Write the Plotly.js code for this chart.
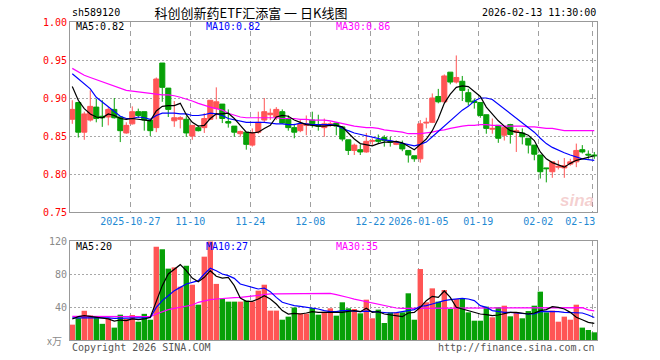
<!DOCTYPE html>
<html>
<head>
<meta charset="utf-8">
<script src="https://cdn.plot.ly/plotly-3.0.1.min.js"></script>
<style>html,body{margin:0;padding:0;background:#fff;}#chart{width:660px;height:360px;}</style>
</head>
<body>
<div id="chart"></div>
<script>
// ---------- data ----------
const dates = [
'2025-10-13','2025-10-14','2025-10-15','2025-10-16','2025-10-17','2025-10-20','2025-10-21','2025-10-22','2025-10-23','2025-10-24',
'2025-10-27','2025-10-28','2025-10-29','2025-10-30','2025-10-31',
'2025-11-03','2025-11-04','2025-11-05','2025-11-06','2025-11-07','2025-11-10','2025-11-11','2025-11-12','2025-11-13','2025-11-14',
'2025-11-17','2025-11-18','2025-11-19','2025-11-20','2025-11-21','2025-11-24','2025-11-25','2025-11-26','2025-11-27','2025-11-28',
'2025-12-01','2025-12-02','2025-12-03','2025-12-04','2025-12-05','2025-12-08','2025-12-09','2025-12-10','2025-12-11','2025-12-12',
'2025-12-15','2025-12-16','2025-12-17','2025-12-18','2025-12-19','2025-12-22','2025-12-23','2025-12-24','2025-12-25','2025-12-26',
'2025-12-29','2025-12-30','2025-12-31',
'2026-01-05','2026-01-06','2026-01-07','2026-01-08','2026-01-09','2026-01-12','2026-01-13','2026-01-14','2026-01-15','2026-01-16',
'2026-01-19','2026-01-20','2026-01-21','2026-01-22','2026-01-23','2026-01-26','2026-01-27','2026-01-28','2026-01-29','2026-01-30',
'2026-02-02','2026-02-03','2026-02-04','2026-02-05','2026-02-06','2026-02-09','2026-02-10','2026-02-11','2026-02-12','2026-02-13'];

const open = [0.872,0.894,0.855,0.871,0.888,0.876,0.875,0.885,0.875,0.854,
0.866,0.882,0.882,0.871,0.861,0.946,0.913,0.870,0.872,0.872,
0.850,0.861,0.861,0.872,0.886,0.892,0.869,0.863,0.853,0.855,
0.838,0.855,0.871,0.878,0.875,0.882,0.872,0.861,0.857,0.864,
0.871,0.864,0.861,0.864,0.867,0.862,0.845,0.831,0.832,0.829,
0.843,0.845,0.848,0.843,0.839,0.840,0.831,0.824,0.820,0.867,
0.868,0.902,0.895,0.934,0.921,0.922,0.907,0.896,0.894,0.878,
0.859,0.864,0.851,0.865,0.855,0.854,0.847,0.838,0.825,0.808,
0.803,0.809,0.808,0.813,0.816,0.832,0.826,0.825];
const high = [0.897,0.895,0.882,0.910,0.899,0.897,0.888,0.900,0.875,0.868,
0.889,0.886,0.882,0.871,0.927,0.946,0.913,0.896,0.876,0.876,
0.864,0.864,0.880,0.897,0.914,0.892,0.885,0.863,0.857,0.855,
0.860,0.882,0.900,0.886,0.888,0.885,0.877,0.866,0.871,0.877,
0.882,0.878,0.873,0.869,0.868,0.862,0.845,0.840,0.839,0.854,
0.847,0.852,0.851,0.849,0.844,0.844,0.831,0.824,0.871,0.874,
0.906,0.912,0.931,0.934,0.956,0.929,0.912,0.899,0.894,0.878,
0.873,0.864,0.862,0.866,0.860,0.860,0.847,0.838,0.825,0.808,
0.816,0.818,0.821,0.820,0.840,0.838,0.831,0.829];
const low = [0.866,0.848,0.845,0.869,0.868,0.862,0.864,0.873,0.842,0.853,
0.865,0.874,0.857,0.850,0.855,0.895,0.875,0.862,0.860,0.849,
0.845,0.856,0.854,0.871,0.872,0.867,0.861,0.849,0.849,0.832,
0.836,0.853,0.868,0.871,0.871,0.866,0.857,0.847,0.855,0.851,
0.861,0.857,0.849,0.862,0.851,0.843,0.825,0.825,0.825,0.828,
0.838,0.840,0.836,0.836,0.838,0.830,0.815,0.816,0.815,0.860,
0.867,0.893,0.894,0.918,0.919,0.896,0.890,0.886,0.874,0.853,
0.853,0.841,0.844,0.840,0.829,0.839,0.827,0.818,0.794,0.789,
0.795,0.806,0.795,0.811,0.809,0.827,0.820,0.820];
const close = [0.885,0.855,0.879,0.889,0.873,0.874,0.885,0.874,0.857,0.864,
0.882,0.877,0.871,0.857,0.925,0.914,0.885,0.874,0.874,0.854,
0.864,0.857,0.873,0.897,0.895,0.873,0.867,0.855,0.856,0.839,
0.854,0.868,0.882,0.880,0.885,0.867,0.861,0.855,0.866,0.866,
0.866,0.863,0.866,0.866,0.863,0.846,0.831,0.838,0.829,0.843,
0.844,0.843,0.844,0.842,0.842,0.833,0.825,0.820,0.866,0.868,
0.900,0.895,0.929,0.921,0.927,0.910,0.895,0.894,0.877,0.860,
0.860,0.847,0.861,0.852,0.857,0.849,0.838,0.826,0.803,0.807,
0.816,0.810,0.811,0.816,0.831,0.829,0.825,0.824];
const volume = [18.6,26.5,35.4,29.8,28.5,19.6,26.5,15.0,30.7,25.5,
30.3,22.2,31.7,24.6,113,110,86.5,88,64.6,90,
67,42.8,101,119.5,68,50,46.5,46.5,46.5,47.7,
46.5,59.8,67,35.6,35.6,24.6,28.3,39.4,32.5,32,
38.8,30.7,34.2,38.4,29.5,45.7,38.4,37.6,32.3,48.9,
26.3,36.8,20.6,33.5,33.5,33.5,56.6,24.6,86,45.7,
62.6,46.5,60.6,37.6,49.7,50.5,33.5,23.4,23.4,40.4,
27.5,39.6,41.6,28.7,32.7,26.3,35.1,41.6,58.6,33.5,
35.6,22.2,28.3,24.6,42.8,15,12.1,9.3];

const ma5 = [0.915,0.897,0.886,0.879,0.875,0.874,0.879,0.877,0.873,0.872,
0.873,0.872,0.871,0.870,0.883,0.889,0.890,0.890,0.893,0.878,
0.868,0.863,0.864,0.873,0.879,0.879,0.880,0.873,0.864,0.855,
0.854,0.855,0.860,0.864,0.875,0.877,0.876,0.871,0.868,0.865,
0.864,0.863,0.863,0.864,0.864,0.862,0.854,0.846,0.840,0.838,
0.837,0.840,0.842,0.842,0.843,0.841,0.837,0.832,0.839,0.846,
0.857,0.873,0.893,0.905,0.914,0.916,0.915,0.909,0.902,0.888,
0.879,0.870,0.863,0.857,0.855,0.854,0.851,0.844,0.829,0.820,
0.815,0.812,0.809,0.814,0.818,0.820,0.822,0.824];
const ma10 = [0.932,0.925,0.919,0.912,0.901,0.895,0.888,0.883,0.876,0.873,
0.873,0.875,0.874,0.872,0.877,0.880,0.880,0.880,0.879,0.879,
0.877,0.877,0.878,0.880,0.879,0.877,0.873,0.871,0.869,0.868,
0.868,0.868,0.868,0.867,0.866,0.866,0.865,0.865,0.867,0.866,
0.865,0.865,0.865,0.865,0.864,0.860,0.857,0.854,0.852,0.850,
0.849,0.846,0.845,0.844,0.842,0.840,0.839,0.837,0.839,0.842,
0.849,0.856,0.864,0.871,0.877,0.884,0.889,0.896,0.900,0.900,
0.898,0.892,0.886,0.880,0.874,0.868,0.862,0.855,0.847,0.840,
0.835,0.831,0.828,0.825,0.822,0.820,0.819,0.818];
const ma30 = [0.939,0.934,0.930,0.927,0.924,0.921,0.918,0.915,0.912,0.910,
0.909,0.908,0.907,0.906,0.905,0.904,0.904,0.903,0.901,0.899,
0.896,0.893,0.890,0.888,0.886,0.884,0.880,0.877,0.875,0.874,
0.874,0.874,0.874,0.874,0.874,0.873,0.873,0.873,0.872,0.872,
0.871,0.871,0.871,0.870,0.868,0.866,0.864,0.863,0.862,0.861,
0.861,0.860,0.858,0.857,0.856,0.855,0.853,0.853,0.853,0.854,
0.855,0.857,0.858,0.860,0.862,0.863,0.864,0.864,0.865,0.865,
0.864,0.864,0.863,0.863,0.863,0.863,0.862,0.862,0.861,0.860,
0.860,0.858,0.857,0.857,0.857,0.857,0.857,0.857];

const vma5 = [25.5,28.3,29.5,28.3,27.5,26.7,25.5,23.0,24.2,23.4,
25.5,24.6,25.5,27.5,47.7,65.9,80.0,86.0,91.3,84.0,
75.1,70.7,76.0,84.0,77.2,75.1,76.0,65.9,50.9,46.9,
46.9,49.7,53.7,49.7,43.6,35.6,31.5,32.3,31.5,32.7,
34.3,33.5,33.5,33.5,32.7,33.5,34.7,35.6,34.3,38.4,
33.5,34.3,31.5,30.7,29.5,28.3,32.7,33.5,39.6,47.7,
52.9,51.7,59.4,51.7,39.6,37.6,35.6,33.5,31.5,30.7,
29.5,30.3,32.3,33.5,33.5,32.7,31.5,32.7,35.6,36.8,
40.4,39.6,37.6,33.5,27.5,24.6,21.4,20.2];
const vma10 = [26.7,26.7,27.1,27.5,27.5,27.1,26.7,26.3,26.3,26.3,
26.3,26.7,26.7,27.1,39.6,47.7,53.7,59.8,63.8,67.9,
69.9,71.9,80.0,86.9,84.0,80.0,78.0,74.7,67.9,65.9,
63.8,61.8,63.0,58.6,51.7,45.7,43.6,41.6,40.8,40.0,
38.8,37.6,35.6,34.3,34.3,35.6,35.6,35.3,34.3,35.1,
34.3,33.5,33.5,32.7,33.1,34.3,35.6,36.8,40.8,41.6,
43.6,45.7,47.7,48.9,49.7,50.5,49.7,47.7,41.6,39.6,
35.6,34.3,33.5,33.5,32.7,32.3,31.5,31.5,34.3,34.7,
34.7,34.3,33.5,33.5,33.5,32.7,30.3,27.2];
const vma30 = [28.7,28.7,28.7,28.6,28.6,28.5,28.5,28.5,28.4,28.4,
28.4,28.3,28.3,28.3,31.5,34.3,36.8,38.4,39.6,40.8,
42.4,45.7,47.7,48.9,49.7,50.5,50.5,51.3,51.7,52.5,
53.7,54.5,55.8,55.8,55.8,55.8,55.8,55.8,55.8,55.8,
55.8,56.6,56.6,56.6,55.0,53.5,51.5,49.5,48.0,46.5,
45.0,43.5,41.5,40.0,38.8,38.4,38.4,38.6,39.2,39.2,
39.2,39.2,39.2,39.2,39.2,39.2,39.2,39.2,39.2,39.2,
39.2,39.2,39.2,39.2,39.2,39.2,39.2,39.2,39.2,39.2,
39.2,39.2,39.2,39.2,39.2,39.2,36.5,35.2];

const tickDates = ['2025-10-27','2025-11-10','2025-11-24','2025-12-08','2025-12-22','2026-01-05','2026-01-19','2026-02-02','2026-02-13'];
const tickLabels = ['2025-10-27','11-10','11-24','12-08','12-22','2026-01-05','01-19','02-02','02-13'];
const priceTicks = [0.75,0.80,0.85,0.90,0.95,1.00];
const volTicks = [40,80,120];

// ---------- styling ----------
const RED = '#ff5555', GREEN = '#07a007';
const MONO = 'DejaVu Sans Mono, Liberation Mono, monospace';
const W = 660, H = 360, L = 70, R = 597, T = 22, B = 340;
const px = x => (x - L) / (R - L);
const py = y => (B - y) / (B - T);

const idx = dates.map((d, i) => i);
const tickPos = tickDates.map(d => dates.indexOf(d) - 0.33);
// last label is pulled left inside the frame, as in the reference
const tickText = tickLabels.map((t, k) => k === tickLabels.length - 1 ? t + '\u00a0\u00a0\u00a0\u00a0' : t);
const barColors = idx.map(i => close[i] >= open[i] ? RED : GREEN);
const last = a => a[a.length - 1];

const traces = [
  {type:'candlestick', x: idx, open: open, high: high, low: low, close: close,
   xaxis:'x', yaxis:'y', whiskerwidth: 0,
   increasing:{line:{color:RED, width:1}, fillcolor:RED},
   decreasing:{line:{color:GREEN, width:1}, fillcolor:GREEN},
   hoverinfo:'skip', showlegend:false},
  {type:'scatter', mode:'lines', x: idx, y: ma30, xaxis:'x', yaxis:'y', line:{color:'#ff00ff', width:1.2}, showlegend:false},
  {type:'scatter', mode:'lines', x: idx, y: ma10, xaxis:'x', yaxis:'y', line:{color:'#0000ff', width:1.2}, showlegend:false},
  {type:'scatter', mode:'lines', x: idx, y: ma5, xaxis:'x', yaxis:'y', line:{color:'#000000', width:1.2}, showlegend:false},
  {type:'bar', x: idx, y: volume, xaxis:'x2', yaxis:'y2', marker:{color: barColors, line:{width:0}}, showlegend:false},
  {type:'scatter', mode:'lines', x: idx, y: vma30, xaxis:'x2', yaxis:'y2', line:{color:'#ff00ff', width:1.2}, showlegend:false},
  {type:'scatter', mode:'lines', x: idx, y: vma10, xaxis:'x2', yaxis:'y2', line:{color:'#0000ff', width:1.2}, showlegend:false},
  {type:'scatter', mode:'lines', x: idx, y: vma5, xaxis:'x2', yaxis:'y2', line:{color:'#000000', width:1.2}, showlegend:false}
];

const xr = [-0.38, 87.45];
const gridX = {showgrid:true, gridcolor:'#a0a0a0', griddash:'5px,4px', gridwidth:1};
const layout = {
  width: W, height: H,
  margin: {l: L, r: W - R, t: T, b: H - B},
  paper_bgcolor:'#fff', plot_bgcolor:'#fff',
  hovermode:false, showlegend:false,
  boxgap: 0.1, boxgroupgap: 0.06, bargap: 0.1,
  title: {text:'科创创新药ETF汇添富 一 日K线图', x: 251/W, xanchor:'center', y: 1 - 13/H, yanchor:'middle',
          font:{family:'Noto Sans CJK SC', size:13, color:'#000'}},
  xaxis: Object.assign({domain:[0,1], anchor:'y', range: xr, type:'linear', rangeslider:{visible:false},
          tickmode:'array', tickvals: tickPos, ticktext: tickText, ticks:'',
          tickfont:{family: MONO, size:10, color:'#1f8ad3'},
          showline:true, mirror:true, linecolor:'#999', linewidth:1, zeroline:false}, gridX),
  yaxis: {domain:[(B-212)/(B-T), 1], anchor:'x', range:[0.75, 1.0], tickmode:'array', tickvals: priceTicks,
          ticktext: priceTicks.map(v => v.toFixed(2)), ticks:'', tickfont:{family: MONO, size:10, color:'#ff0000'},
          showgrid:true, gridcolor:'#a8a8a8', griddash:'2px,2px', showline:true, mirror:true, linecolor:'#999', linewidth:1, zeroline:false},
  xaxis2: Object.assign({domain:[0,1], anchor:'y2', matches:'x', range: xr, type:'linear',
          tickmode:'array', tickvals: tickPos, showticklabels:false, ticks:'',
          showline:true, mirror:true, linecolor:'#999', linewidth:1, zeroline:false}, gridX),
  yaxis2: {domain:[0, (B-240.5)/(B-T)], anchor:'x2', range:[0, 120.6], tickmode:'array', tickvals: volTicks,
          ticks:'', tickfont:{family: MONO, size:10, color:'#8a8a8a'},
          showgrid:true, gridcolor:'#a8a8a8', griddash:'2px,2px', showline:true, mirror:true, linecolor:'#999', linewidth:1, zeroline:false},
  annotations: [
    {text:'sh589120', x:px(70), y:py(13), xanchor:'left', yanchor:'middle', font:{family:MONO, size:10, color:'#000'}},
    {text:'2026-02-13 11:30:00', x:px(598), y:py(13), xanchor:'right', yanchor:'middle', font:{family:MONO, size:10, color:'#000'}},
    {text:'MA5:' + last(ma5).toFixed(2), x:px(74), y:py(26.5), xanchor:'left', yanchor:'middle', font:{family:MONO, size:10, color:'#000'}},
    {text:'MA10:' + last(ma10).toFixed(2), x:px(204), y:py(26.5), xanchor:'left', yanchor:'middle', font:{family:MONO, size:10, color:'#0000ff'}},
    {text:'MA30:' + last(ma30).toFixed(2), x:px(334), y:py(26.5), xanchor:'left', yanchor:'middle', font:{family:MONO, size:10, color:'#ff00ff'}},
    {text:'MA5:' + last(vma5).toFixed(0), x:px(74), y:py(246.5), xanchor:'left', yanchor:'middle', font:{family:MONO, size:10, color:'#000'}},
    {text:'MA10:' + last(vma10).toFixed(0), x:px(204), y:py(246.5), xanchor:'left', yanchor:'middle', font:{family:MONO, size:10, color:'#0000ff'}},
    {text:'MA30:' + last(vma30).toFixed(0), x:px(334), y:py(246.5), xanchor:'left', yanchor:'middle', font:{family:MONO, size:10, color:'#ff00ff'}},
    {text:'x万', x:px(64), y:py(340), xanchor:'right', yanchor:'middle', font:{family:'Noto Sans CJK SC', size:10, color:'#8a8a8a'}},
    {text:'Copyright 2026 SINA.COM', x:px(70), y:py(347), xanchor:'left', yanchor:'middle', font:{family:MONO, size:10, color:'#555'}},
    {text:'http://finance.sina.com.cn', x:px(597), y:py(347), xanchor:'right', yanchor:'middle', font:{family:MONO, size:10, color:'#555'}},
    {text:'<b><i>sina</i></b>', x:px(577), y:py(200), xanchor:'center', yanchor:'middle', font:{family:'Liberation Sans', size:17, color:'rgba(225,120,120,0.35)'}}
  ].map(a => Object.assign({xref:'paper', yref:'paper', showarrow:false}, a))
};

Plotly.newPlot('chart', traces, layout, {staticPlot:true, displayModeBar:false});
</script>
</body>
</html>
